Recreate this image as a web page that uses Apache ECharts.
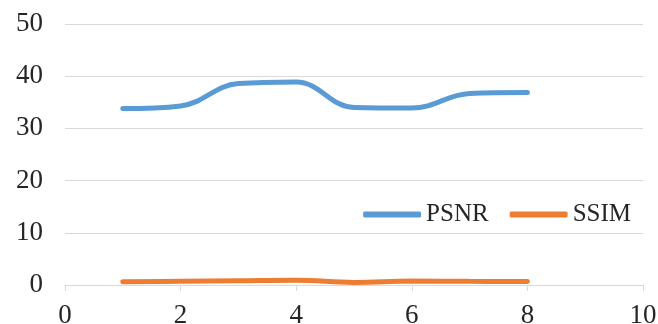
<!DOCTYPE html>
<html>
<head>
<meta charset="utf-8">
<script src="https://cdn.jsdelivr.net/npm/echarts@6/dist/echarts.min.js"></script>
<style>html,body{margin:0;padding:0;background:#fff}#c{width:658px;height:324px}</style>
</head>
<body>
<div id="c"></div>
<script>
const xValues = [1, 2, 3, 4, 5, 6, 7, 8];
const psnr = [33.8, 34.3, 38.6, 38.9, 34.0, 33.9, 36.7, 36.9];
const ssim = [0.6, 0.7, 0.8, 0.9, 0.5, 0.75, 0.7, 0.65];
const xTicks = [0, 2, 4, 6, 8, 10];
const yTicks = [0, 10, 20, 30, 40, 50];
const seriesNames = ['PSNR', 'SSIM'];

const font = '"Liberation Serif", "Times New Roman", serif';
const chart = echarts.init(document.getElementById('c'));
chart.setOption({
  animation: false,
  backgroundColor: '#fff',
  grid: { left: 65, right: 15, top: 24, bottom: 39, containLabel: false, outerBoundsMode: 'none' },
  legend: {
    right: 22, top: 197,
    itemWidth: 58, itemHeight: 6, itemGap: 21,
    icon: 'roundRect',
    textStyle: { fontFamily: font, fontSize: 25, color: '#262626' },
    data: seriesNames
  },
  xAxis: {
    type: 'value', min: xTicks[0], max: xTicks[xTicks.length - 1], interval: 2,
    axisLine: { lineStyle: { color: '#D9D9D9', width: 1 } },
    axisTick: { show: true, length: 6, lineStyle: { color: '#D9D9D9' } },
    splitLine: { show: false },
    axisLabel: { fontFamily: font, fontSize: 27, color: '#262626', margin: 17 }
  },
  yAxis: {
    type: 'value', min: yTicks[0], max: yTicks[yTicks.length - 1], interval: 10,
    axisLine: { show: false }, axisTick: { show: false },
    splitLine: { lineStyle: { color: '#D9D9D9', width: 1 } },
    axisLabel: { fontFamily: font, fontSize: 27, color: '#262626', margin: 22 }
  },
  series: [
    { name: seriesNames[0], type: 'line', smooth: 0.4, symbol: 'none',
      lineStyle: { color: '#5B9BD5', width: 5, cap: 'round' }, itemStyle: { color: '#5B9BD5' },
      data: xValues.map((x, i) => [x, psnr[i]]) },
    { name: seriesNames[1], type: 'line', smooth: 0.4, symbol: 'none',
      lineStyle: { color: '#ED7D31', width: 5, cap: 'round' }, itemStyle: { color: '#ED7D31' },
      data: xValues.map((x, i) => [x, ssim[i]]) }
  ]
});
</script>
</body>
</html>
